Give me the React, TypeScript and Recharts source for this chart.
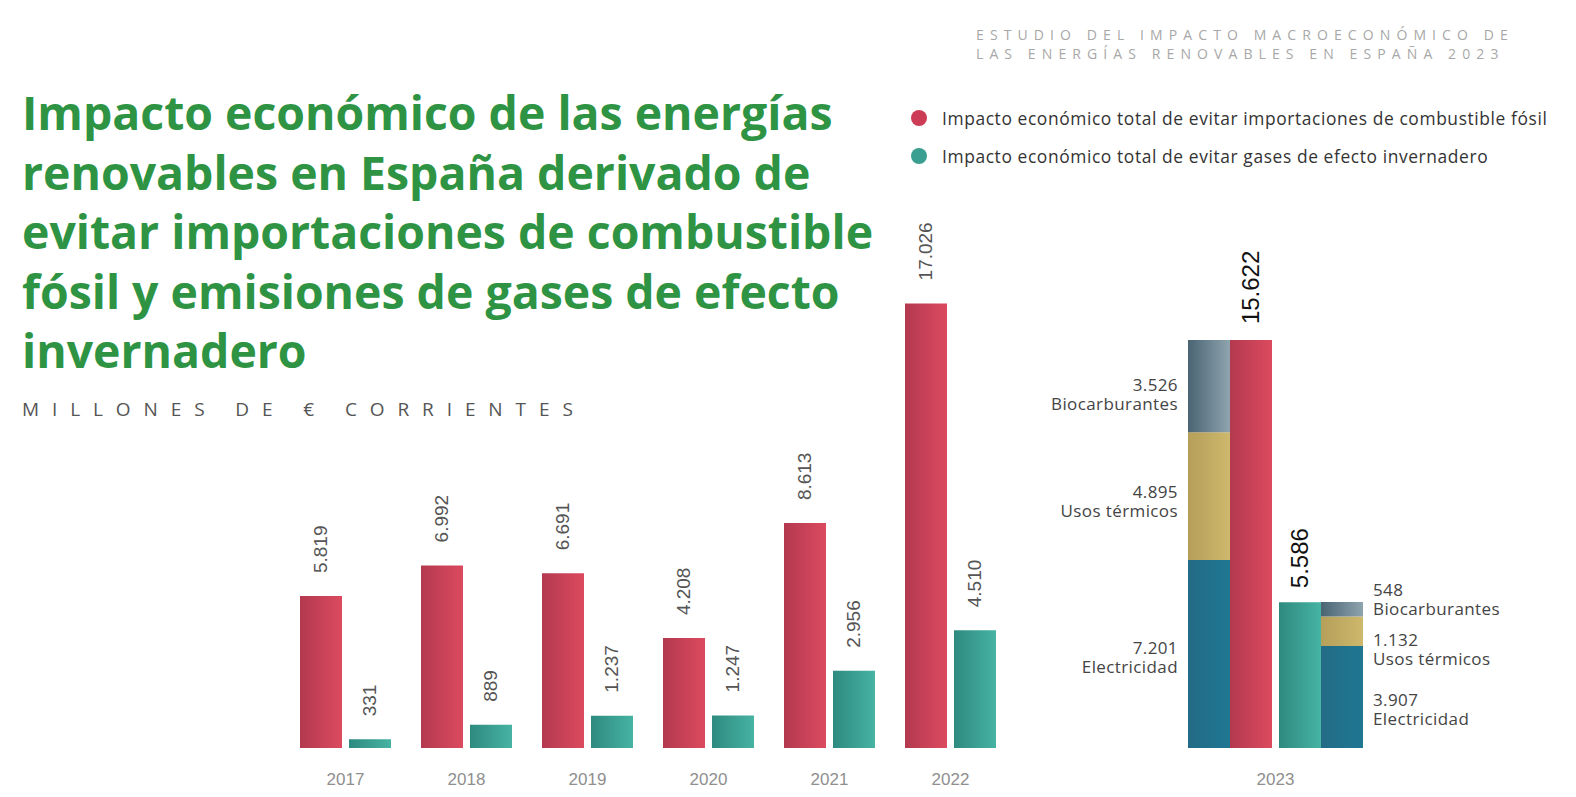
import React from 'react';
import { BarChart, Bar, XAxis, YAxis, LabelList } from 'recharts';

// ---------- DATA ----------
const years = ['2017', '2018', '2019', '2020', '2021', '2022'];
const fossilValues = [5819, 6992, 6691, 4208, 8613, 17026];
const ghgValues = [331, 889, 1237, 1247, 2956, 4510];

const year2023 = '2023';
const fossil2023 = 15622;
const ghg2023 = 5586;
const breakdownNames = ['Electricidad', 'Usos térmicos', 'Biocarburantes'];
const fossil2023Parts = [7201, 4895, 3526];
const ghg2023Parts = [3907, 1132, 548];

const legendItems = [
  'Impacto económico total de evitar importaciones de combustible fósil',
  'Impacto económico total de evitar gases de efecto invernadero',
];

const titleLines = [
  'Impacto económico de las energías',
  'renovables en España derivado de',
  'evitar importaciones de combustible',
  'fósil y emisiones de gases de efecto',
  'invernadero',
];
const subtitle = 'MILLONES DE € CORRIENTES';
const headerLines = ['ESTUDIO DEL IMPACTO MACROECONÓMICO DE', 'LAS ENERGÍAS RENOVABLES EN ESPAÑA 2023'];

// ---------- derived tables ----------
const mainData = years.map((y, i) => ({ year: y, fossil: fossilValues[i], ghg: ghgValues[i] }));
const data2023 = [
  {
    year: year2023,
    fE: fossil2023Parts[0],
    fT: fossil2023Parts[1],
    fB: fossil2023Parts[2],
    fossil: fossil2023,
    ghg: ghg2023,
    gE: ghg2023Parts[0],
    gT: ghg2023Parts[1],
    gB: ghg2023Parts[2],
  },
];

// ---------- styles ----------
const Y_MAX = 18000;
const BAR = 42;
const LABEL_FONT = "'Liberation Sans', Arial, sans-serif";
const TEXT_FONT = "'Open Sans', 'Noto Sans', sans-serif";

const fmt = (v: number) => {
  const n = Math.round(Number(v));
  if (n < 1000) return String(n);
  const th = Math.floor(n / 1000);
  const rest = String(n % 1000).padStart(3, '0');
  return `${th}.${rest}`;
};

const getBox = (p: any) => {
  const vb = p.viewBox || {};
  return {
    x: Number(p.x ?? vb.x),
    y: Number(p.y ?? vb.y),
    width: Number(p.width ?? vb.width),
    height: Number(p.height ?? vb.height),
  };
};

const makeValueLabel = (gap: number, size: number, color: string) => (p: any) => {
  const { x, y, width } = getBox(p);
  if (p.value == null || isNaN(x)) return null;
  const cx = x + width / 2;
  const ty = y - gap;
  return (
    <text
      x={cx}
      y={ty}
      transform={`rotate(-90 ${cx} ${ty})`}
      textAnchor="start"
      dominantBaseline="central"
      fontFamily={LABEL_FONT}
      fontSize={size}
      fill={color}
    >
      {fmt(p.value)}
    </text>
  );
};

const makeSideLabel = (name: string, side: 'left' | 'right', dy: number) => (p: any) => {
  const { x, y, width, height } = getBox(p);
  if (p.value == null || isNaN(x)) return null;
  const c = y + height / 2 + dy;
  const tx = side === 'left' ? x - 10 : x + width + 10;
  const anchor = side === 'left' ? 'end' : 'start';
  const common = {
    x: tx,
    textAnchor: anchor,
    fontFamily: TEXT_FONT,
    fontSize: 17,
    letterSpacing: 0.4,
    fill: '#444',
  } as any;
  return (
    <g>
      <text {...common} y={c + 6}>{fmt(p.value)}</text>
      <text {...common} y={c + 25}>{name}</text>
    </g>
  );
};

const leftDy = [-6, -4, -1];
const rightDy = [3, 9, -19];

const Gradients = () => (
  <defs>
    <linearGradient id="gRed" x1="0" y1="0" x2="1" y2="0">
      <stop offset="0%" stopColor="#b3394f" />
      <stop offset="100%" stopColor="#dc4a5f" />
    </linearGradient>
    <linearGradient id="gTeal" x1="0" y1="0" x2="1" y2="0">
      <stop offset="0%" stopColor="#2e8a7f" />
      <stop offset="100%" stopColor="#46b3a3" />
    </linearGradient>
    <linearGradient id="gElec" x1="0" y1="0" x2="1" y2="0">
      <stop offset="0%" stopColor="#236b86" />
      <stop offset="100%" stopColor="#1f7792" />
    </linearGradient>
    <linearGradient id="gTerm" x1="0" y1="0" x2="1" y2="0">
      <stop offset="0%" stopColor="#b59f5a" />
      <stop offset="100%" stopColor="#cdb86c" />
    </linearGradient>
    <linearGradient id="gBio" x1="0" y1="0" x2="1" y2="0">
      <stop offset="0%" stopColor="#4a6474" />
      <stop offset="100%" stopColor="#8ea4ae" />
    </linearGradient>
  </defs>
);

const tickStyle = { fill: '#8f8f8f', fontSize: 17, fontFamily: LABEL_FONT };

export default function App() {
  return (
    <div
      style={{
        position: 'absolute',
        left: 0,
        top: 0,
        width: 1576,
        height: 797,
        overflow: 'hidden',
        background: '#fff',
      }}
    >
      {/* header */}
      <div
        style={{
          position: 'absolute',
          left: 976,
          top: 25,
          fontFamily: TEXT_FONT,
          fontSize: 14,
          lineHeight: '19px',
          color: '#a8a8a8',
          letterSpacing: '6.1px',
          whiteSpace: 'nowrap',
        }}
      >
        {headerLines.map((l, i) => (
          <div key={i}>{l}</div>
        ))}
      </div>

      {/* title */}
      <div
        style={{
          position: 'absolute',
          left: 22,
          top: 83,
          fontFamily: TEXT_FONT,
          fontWeight: 700,
          fontSize: 46.4,
          lineHeight: '59.5px',
          color: '#2e9444',
          whiteSpace: 'nowrap',
        }}
      >
        {titleLines.map((l, i) => (
          <div key={i}>{l}</div>
        ))}
      </div>

      {/* subtitle */}
      <div
        style={{
          position: 'absolute',
          left: 22,
          top: 396,
          fontFamily: TEXT_FONT,
          fontSize: 19,
          lineHeight: '26px',
          letterSpacing: '12.9px',
          color: '#555',
          whiteSpace: 'nowrap',
        }}
      >
        {subtitle}
      </div>

      {/* legend */}
      {legendItems.map((t, i) => (
        <div
          key={i}
          style={{
            position: 'absolute',
            left: 911,
            top: 106 + i * 38,
            height: 24,
            display: 'flex',
            alignItems: 'center',
            fontFamily: TEXT_FONT,
            fontSize: 17.4,
            letterSpacing: '0.6px',
            color: '#333',
            whiteSpace: 'nowrap',
          }}
        >
          <span
            style={{
              display: 'inline-block',
              width: 16,
              height: 16,
              borderRadius: 8,
              background: i === 0 ? '#cc3d55' : '#3a9f91',
              marginRight: 15,
            }}
          />
          {t}
        </div>
      ))}

      {/* 2017-2022 */}
      <div style={{ position: 'absolute', left: 285, top: 218 }}>
        <BarChart
          width={726}
          height={580}
          data={mainData}
          margin={{ top: 60, right: 0, left: 0, bottom: 10 }}
          barGap={7}
        >
          <Gradients />
          <XAxis
            dataKey="year"
            axisLine={false}
            tickLine={false}
            height={40}
            tickMargin={19}
            tick={tickStyle}
            interval={0}
          />
          <YAxis hide domain={[0, Y_MAX]} />
          <Bar dataKey="fossil" fill="url(#gRed)" barSize={BAR} isAnimationActive={false}>
            <LabelList dataKey="fossil" content={makeValueLabel(23, 19, '#555')} />
          </Bar>
          <Bar dataKey="ghg" fill="url(#gTeal)" barSize={BAR} isAnimationActive={false}>
            <LabelList dataKey="ghg" content={makeValueLabel(23, 19, '#555')} />
          </Bar>
        </BarChart>
      </div>

      {/* 2023 */}
      <div style={{ position: 'absolute', left: 1030, top: 218 }}>
        <BarChart
          width={500}
          height={580}
          data={data2023}
          margin={{ top: 60, right: 129, left: 120, bottom: 10 }}
          barGap={0}
        >
          <Gradients />
          <XAxis
            dataKey="year"
            axisLine={false}
            tickLine={false}
            height={40}
            tickMargin={19}
            tick={tickStyle}
          />
          <YAxis hide domain={[0, Y_MAX]} />
          <Bar dataKey="fE" stackId="f" fill="url(#gElec)" barSize={BAR} isAnimationActive={false}>
            <LabelList dataKey="fE" content={makeSideLabel(breakdownNames[0], 'left', leftDy[0])} />
          </Bar>
          <Bar dataKey="fT" stackId="f" fill="url(#gTerm)" barSize={BAR} isAnimationActive={false}>
            <LabelList dataKey="fT" content={makeSideLabel(breakdownNames[1], 'left', leftDy[1])} />
          </Bar>
          <Bar dataKey="fB" stackId="f" fill="url(#gBio)" barSize={BAR} isAnimationActive={false}>
            <LabelList dataKey="fB" content={makeSideLabel(breakdownNames[2], 'left', leftDy[2])} />
          </Bar>
          <Bar dataKey="fossil" stackId="fo" fill="url(#gRed)" barSize={BAR} isAnimationActive={false}>
            <LabelList dataKey="fossil" content={makeValueLabel(16, 24, '#111')} />
          </Bar>
          <Bar dataKey="spacer" stackId="sp" fill="none" barSize={7} isAnimationActive={false} />
          <Bar dataKey="ghg" stackId="gh" fill="url(#gTeal)" barSize={BAR} isAnimationActive={false}>
            <LabelList dataKey="ghg" content={makeValueLabel(14, 24, '#111')} />
          </Bar>
          <Bar dataKey="gE" stackId="g" fill="url(#gElec)" barSize={BAR} isAnimationActive={false}>
            <LabelList dataKey="gE" content={makeSideLabel(breakdownNames[0], 'right', rightDy[0])} />
          </Bar>
          <Bar dataKey="gT" stackId="g" fill="url(#gTerm)" barSize={BAR} isAnimationActive={false}>
            <LabelList dataKey="gT" content={makeSideLabel(breakdownNames[1], 'right', rightDy[1])} />
          </Bar>
          <Bar dataKey="gB" stackId="g" fill="url(#gBio)" barSize={BAR} isAnimationActive={false}>
            <LabelList dataKey="gB" content={makeSideLabel(breakdownNames[2], 'right', rightDy[2])} />
          </Bar>
        </BarChart>
      </div>
    </div>
  );
}
